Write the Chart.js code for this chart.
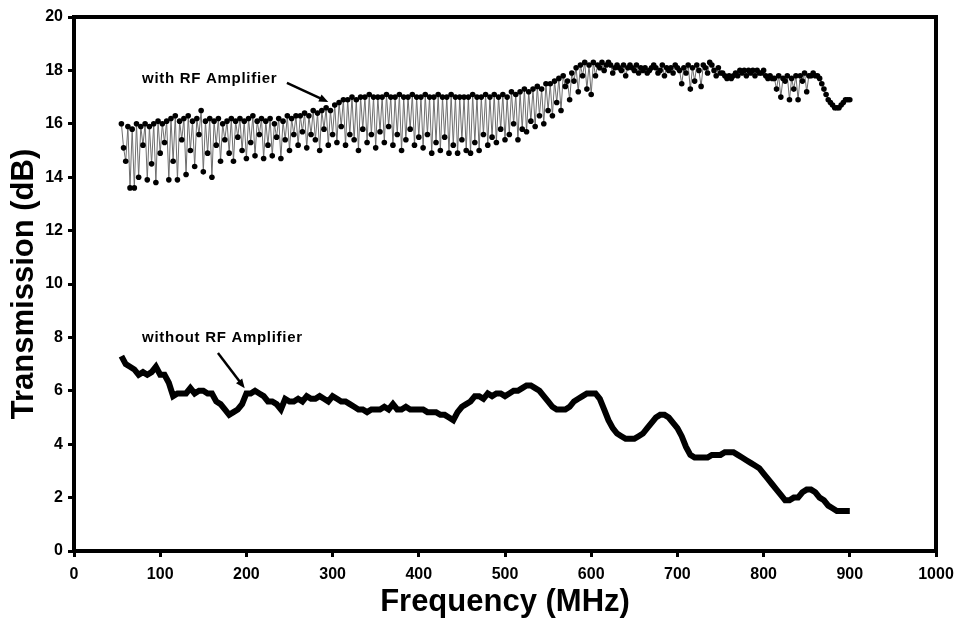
<!DOCTYPE html>
<html>
<head>
<meta charset="utf-8">
<script src="https://cdn.jsdelivr.net/npm/chart.js@4.4.1/dist/chart.umd.min.js"></script>
<style>
  body { margin: 0; background: #fff; }
  #wrap { width: 956px; height: 621px; }
</style>
</head>
<body>
<div id="wrap"><canvas id="chart" width="956" height="621"></canvas></div>
<script>
// sweep points of the amplified measurement (MHz), 20 per row
const ampFreqs = [
  55, 57.5, 60, 62.5, 65, 67.5, 70, 72.5, 75, 77.5, 80, 82.5, 85, 87.5, 90, 92.5, 95, 97.5, 100, 102.5,
  105, 107.5, 110, 112.5, 115, 117.5, 120, 122.5, 125, 127.5, 130, 132.5, 135, 137.5, 140, 142.5, 145, 147.5, 150, 152.5,
  155, 157.5, 160, 162.5, 165, 167.5, 170, 172.5, 175, 177.5, 180, 182.5, 185, 187.5, 190, 192.5, 195, 197.5, 200, 202.5,
  205, 207.5, 210, 212.5, 215, 217.5, 220, 222.5, 225, 227.5, 230, 232.5, 235, 237.5, 240, 242.5, 245, 247.5, 250, 252.5,
  255, 257.5, 260, 262.5, 265, 267.5, 270, 272.5, 275, 277.5, 280, 282.5, 285, 287.5, 290, 292.5, 295, 297.5, 300, 302.5,
  305, 307.5, 310, 312.5, 315, 317.5, 320, 322.5, 325, 327.5, 330, 332.5, 335, 337.5, 340, 342.5, 345, 347.5, 350, 352.5,
  355, 357.5, 360, 362.5, 365, 367.5, 370, 372.5, 375, 377.5, 380, 382.5, 385, 387.5, 390, 392.5, 395, 397.5, 400, 402.5,
  405, 407.5, 410, 412.5, 415, 417.5, 420, 422.5, 425, 427.5, 430, 432.5, 435, 437.5, 440, 442.5, 445, 447.5, 450, 452.5,
  455, 457.5, 460, 462.5, 465, 467.5, 470, 472.5, 475, 477.5, 480, 482.5, 485, 487.5, 490, 492.5, 495, 497.5, 500, 502.5,
  505, 507.5, 510, 512.5, 515, 517.5, 520, 522.5, 525, 527.5, 530, 532.5, 535, 537.5, 540, 542.5, 545, 547.5, 550, 552.5,
  555, 557.5, 560, 562.5, 565, 567.5, 570, 572.5, 575, 577.5, 580, 582.5, 585, 587.5, 590, 592.5, 595, 597.5, 600, 602.5,
  605, 607.5, 610, 612.5, 615, 617.5, 620, 622.5, 625, 627.5, 630, 632.5, 635, 637.5, 640, 642.5, 645, 647.5, 650, 652.5,
  655, 657.5, 660, 662.5, 665, 667.5, 670, 672.5, 675, 677.5, 680, 682.5, 685, 687.5, 690, 692.5, 695, 697.5, 700, 702.5,
  705, 707.5, 710, 712.5, 715, 717.5, 720, 722.5, 725, 727.5, 730, 732.5, 735, 737.5, 740, 742.5, 745, 747.5, 750, 752.5,
  755, 757.5, 760, 762.5, 765, 767.5, 770, 772.5, 775, 777.5, 780, 782.5, 785, 787.5, 790, 792.5, 795, 797.5, 800, 802.5,
  805, 807.5, 810, 812.5, 815, 817.5, 820, 822.5, 825, 827.5, 830, 832.5, 835, 837.5, 840, 842.5, 845, 847.5, 850, 852.5,
  855, 857.5, 860, 862.5, 865, 867.5, 870, 872.5, 875, 877.5, 880, 882.5, 885, 887.5, 890, 892.5, 895, 897.5, 900
];

// transmission with the RF amplifier (dB), noisy trace
const withAmp = [
  16.0, 15.1, 14.6, 15.9, 13.6, 15.8, 13.6, 16.0, 14.0, 15.9, 15.2, 16.0, 13.9, 15.9, 14.5, 16.0, 13.8, 16.1, 14.9, 16.0,
  15.3, 16.1, 13.9, 16.2, 14.6, 16.3, 13.9, 16.1, 15.4, 16.2, 14.1, 16.3, 15.0, 16.1, 14.4, 16.2, 15.6, 16.5, 14.2, 16.1,
  14.9, 16.2, 14.0, 16.1, 15.2, 16.2, 14.6, 16.0, 15.4, 16.1, 14.9, 16.2, 14.6, 16.1, 15.5, 16.2, 15.0, 16.1, 14.7, 16.2,
  15.3, 16.3, 14.8, 16.1, 15.6, 16.2, 14.7, 16.1, 15.2, 16.2, 14.8, 16.0, 15.5, 16.2, 14.7, 16.1, 15.4, 16.3, 15.0, 16.2,
  15.6, 16.3, 15.2, 16.3, 15.7, 16.4, 15.1, 16.3, 15.6, 16.5, 15.4, 16.4, 15.0, 16.5, 15.8, 16.6, 15.2, 16.5, 15.6, 16.7,
  15.3, 16.8, 15.9, 16.9, 15.2, 16.9, 15.6, 17.0, 15.4, 16.9, 15.0, 17.0, 15.8, 17.0, 15.3, 17.1, 15.6, 17.0, 15.1, 17.0,
  15.7, 17.0, 15.3, 17.1, 15.9, 17.0, 15.2, 17.0, 15.6, 17.1, 15.0, 17.0, 15.4, 17.0, 15.8, 17.1, 15.2, 17.0, 15.5, 17.0,
  15.1, 17.1, 15.6, 17.0, 14.9, 17.0, 15.3, 17.1, 15.0, 17.0, 15.5, 17.0, 14.9, 17.1, 15.2, 17.0, 14.9, 17.0, 15.4, 17.0,
  15.0, 17.0, 14.9, 17.1, 15.3, 17.0, 15.0, 17.0, 15.6, 17.1, 15.2, 17.0, 15.5, 17.1, 15.3, 17.0, 15.8, 17.1, 15.4, 17.0,
  15.6, 17.2, 16.0, 17.1, 15.4, 17.2, 15.8, 17.3, 15.7, 17.2, 16.1, 17.3, 15.9, 17.4, 16.3, 17.3, 16.0, 17.5, 16.5, 17.5,
  16.3, 17.6, 16.8, 17.7, 16.5, 17.8, 17.4, 17.6, 16.9, 17.9, 17.6, 18.1, 17.2, 18.2, 17.8, 18.3, 17.3, 18.2, 17.1, 18.3,
  17.8, 18.2, 18.1, 18.3, 18.0, 18.2, 18.3, 18.2, 17.9, 18.1, 18.2, 18.1, 18.0, 18.2, 17.8, 18.1, 18.2, 18.1, 18.0, 18.2,
  17.9, 18.1, 18.0, 18.1, 17.9, 18.0, 18.1, 18.2, 18.1, 17.9, 18.0, 18.2, 17.8, 18.1, 18.0, 18.1, 17.9, 18.2, 18.1, 18.0,
  17.5, 18.1, 17.9, 18.2, 17.3, 18.1, 17.6, 18.2, 18.0, 17.4, 18.2, 18.1, 17.9, 18.3, 18.2, 18.0, 17.8, 18.1, 17.9, 17.9,
  17.8, 17.7, 17.8, 17.7, 17.8, 17.9, 17.8, 18.0, 17.9, 18.0, 17.8, 18.0, 17.9, 18.0, 17.8, 18.0, 17.9, 17.9, 18.0, 17.8,
  17.7, 17.8, 17.7, 17.7, 17.3, 17.8, 17.0, 17.7, 17.6, 17.8, 16.9, 17.7, 17.3, 17.8, 16.9, 17.8, 17.6, 17.9, 17.2, 17.8,
  17.8, 17.9, 17.8, 17.8, 17.7, 17.5, 17.3, 17.1, 16.9, 16.8, 16.7, 16.6, 16.6, 16.6, 16.7, 16.8, 16.9, 16.9, 16.9
];

// sweep points of the plain measurement (MHz)
const freqs = [
  55, 60, 65, 70, 75, 80, 85, 90, 95, 100,
  105, 110, 115, 120, 125, 130, 135, 140, 145, 150,
  155, 160, 165, 170, 175, 180, 185, 190, 195, 200,
  205, 210, 215, 220, 225, 230, 235, 240, 245, 250,
  255, 260, 265, 270, 275, 280, 285, 290, 295, 300,
  305, 310, 315, 320, 325, 330, 335, 340, 345, 350,
  355, 360, 365, 370, 375, 380, 385, 390, 395, 400,
  405, 410, 415, 420, 425, 430, 435, 440, 445, 450,
  455, 460, 465, 470, 475, 480, 485, 490, 495, 500,
  505, 510, 515, 520, 525, 530, 535, 540, 545, 550,
  555, 560, 565, 570, 575, 580, 585, 590, 595, 600,
  605, 610, 615, 620, 625, 630, 635, 640, 645, 650,
  655, 660, 665, 670, 675, 680, 685, 690, 695, 700,
  705, 710, 715, 720, 725, 730, 735, 740, 745, 750,
  755, 760, 765, 770, 775, 780, 785, 790, 795, 800,
  805, 810, 815, 820, 825, 830, 835, 840, 845, 850,
  855, 860, 865, 870, 875, 880, 885, 890, 895, 900
];

// transmission without the RF amplifier (dB)
const withoutAmp = [
  7.3, 7.0, 6.9, 6.8, 6.6, 6.7, 6.6, 6.7, 6.9, 6.6,
  6.6, 6.3, 5.8, 5.9, 5.9, 5.9, 6.1, 5.9, 6.0, 6.0,
  5.9, 5.9, 5.6, 5.5, 5.3, 5.1, 5.2, 5.3, 5.5, 5.9,
  5.9, 6.0, 5.9, 5.8, 5.6, 5.6, 5.5, 5.3, 5.7, 5.6,
  5.6, 5.7, 5.6, 5.8, 5.7, 5.7, 5.8, 5.7, 5.6, 5.8,
  5.7, 5.6, 5.6, 5.5, 5.4, 5.3, 5.3, 5.2, 5.3, 5.3,
  5.3, 5.4, 5.3, 5.5, 5.3, 5.3, 5.4, 5.3, 5.3, 5.3,
  5.3, 5.2, 5.2, 5.2, 5.1, 5.1, 5.0, 4.9, 5.2, 5.4,
  5.5, 5.6, 5.8, 5.8, 5.7, 5.9, 5.8, 5.9, 5.9, 5.8,
  5.9, 6.0, 6.0, 6.1, 6.2, 6.2, 6.1, 6.0, 5.8, 5.6,
  5.4, 5.3, 5.3, 5.3, 5.4, 5.6, 5.7, 5.8, 5.9, 5.9,
  5.9, 5.7, 5.3, 4.9, 4.6, 4.4, 4.3, 4.2, 4.2, 4.2,
  4.3, 4.4, 4.6, 4.8, 5.0, 5.1, 5.1, 5.0, 4.8, 4.6,
  4.3, 3.9, 3.6, 3.5, 3.5, 3.5, 3.5, 3.6, 3.6, 3.6,
  3.7, 3.7, 3.7, 3.6, 3.5, 3.4, 3.3, 3.2, 3.1, 2.9,
  2.7, 2.5, 2.3, 2.1, 1.9, 1.9, 2.0, 2.0, 2.2, 2.3,
  2.3, 2.2, 2.0, 1.9, 1.7, 1.6, 1.5, 1.5, 1.5, 1.5
];

// annotation labels and arrows, in data units
const notes = [
  { text: 'with RF Amplifier', x: 79, y: 17.68, from: [247, 17.53], to: [295, 16.82] },
  { text: 'without RF Amplifier', x: 79, y: 7.98, from: [167, 7.42], to: [198, 6.10] }
];

const FONT = "'Liberation Sans', Arial, Helvetica, sans-serif";
Chart.defaults.font.family = FONT;
Chart.defaults.color = '#000';

const pts = (xs, ys) => xs.map((f, i) => ({ x: f, y: ys[i] }));

const frameAndNotes = {
  id: 'frameAndNotes',
  afterDatasetsDraw(chart) {
    const { ctx, chartArea: a, scales: { x, y } } = chart;
    ctx.save();
    ctx.strokeStyle = '#000';
    ctx.lineWidth = 4;
    ctx.beginPath();
    ctx.moveTo(a.left - 2, a.top);
    ctx.lineTo(a.right, a.top);
    ctx.lineTo(a.right, a.bottom);
    ctx.stroke();

    ctx.fillStyle = '#000';
    ctx.font = 'bold 15px ' + FONT;
    ctx.letterSpacing = '0.7px';
    ctx.textBaseline = 'middle';
    ctx.textAlign = 'left';
    notes.forEach(n => {
      ctx.fillText(n.text, x.getPixelForValue(n.x), y.getPixelForValue(n.y));
      const x1 = x.getPixelForValue(n.from[0]), y1 = y.getPixelForValue(n.from[1]);
      const x2 = x.getPixelForValue(n.to[0]), y2 = y.getPixelForValue(n.to[1]);
      const ang = Math.atan2(y2 - y1, x2 - x1);
      const hl = 10;
      ctx.lineWidth = 2.5;
      ctx.beginPath();
      ctx.moveTo(x1, y1);
      ctx.lineTo(x2 - Math.cos(ang) * hl * 0.8, y2 - Math.sin(ang) * hl * 0.8);
      ctx.stroke();
      ctx.beginPath();
      ctx.moveTo(x2, y2);
      ctx.lineTo(x2 - hl * Math.cos(ang - 0.4), y2 - hl * Math.sin(ang - 0.4));
      ctx.lineTo(x2 - hl * Math.cos(ang + 0.4), y2 - hl * Math.sin(ang + 0.4));
      ctx.closePath();
      ctx.fill();
    });
    ctx.restore();
  }
};

const axisBase = {
  type: 'linear',
  grid: { drawOnChartArea: false, drawTicks: true, tickLength: 6, lineWidth: 3, color: '#000' },
  border: { display: true, color: '#000', width: 4 }
};

new Chart(document.getElementById('chart'), {
  type: 'line',
  data: {
    datasets: [
      {
        label: 'without RF Amplifier',
        data: pts(freqs, withoutAmp),
        borderColor: '#000',
        borderWidth: 6,
        pointRadius: 0,
        tension: 0
      },
      {
        label: 'with RF Amplifier',
        data: pts(ampFreqs, withAmp),
        borderColor: '#6e6e6e',
        borderWidth: 1,
        pointRadius: 2.8,
        pointBackgroundColor: '#000',
        pointBorderWidth: 0,
        tension: 0
      }
    ]
  },
  options: {
    responsive: false,
    animation: false,
    devicePixelRatio: 1,
    layout: { padding: { top: 17, right: 20, left: 0, bottom: 0 } },
    plugins: { legend: { display: false }, tooltip: { enabled: false } },
    scales: {
      x: {
        ...axisBase,
        min: 0, max: 1000,
        ticks: { stepSize: 100, padding: 8, maxRotation: 0, font: { size: 16, weight: 'bold' }, color: '#000',
                 callback: v => String(v) },
        title: { display: true, text: 'Frequency (MHz)', color: '#000', font: { size: 31, weight: 'bold' }, padding: { top: 0, bottom: 0 } },
        afterFit: s => { s.height = 70; s.paddingLeft = 0; s.paddingRight = 0; }
      },
      y: {
        ...axisBase,
        min: 0, max: 20,
        ticks: { stepSize: 2, padding: 5, font: { size: 16, weight: 'bold' }, color: '#000' },
        title: { display: true, text: 'Transmission (dB)', color: '#000', font: { size: 31, weight: 'bold' }, padding: { top: 6, bottom: 0 } },
        afterFit: s => { s.width = 74; s.paddingTop = 0; s.paddingBottom = 0; }
      }
    }
  },
  plugins: [frameAndNotes]
});
</script>
</body>
</html>
